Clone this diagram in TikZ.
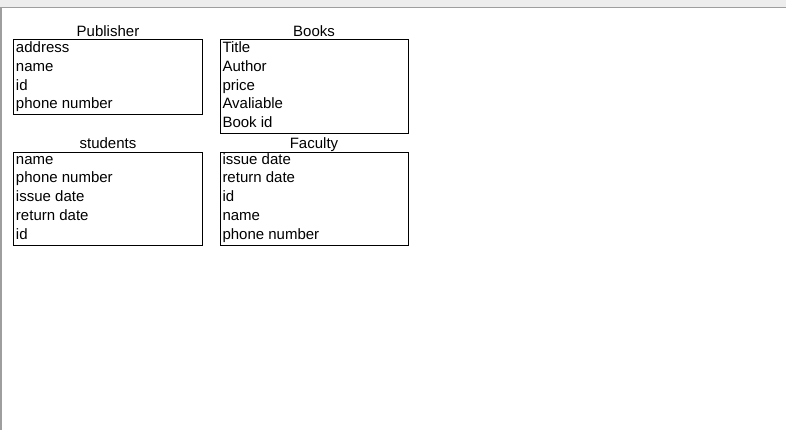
\documentclass[tikz,border=0pt]{standalone}
\usepackage{fontspec}
\setmainfont{Liberation Sans}
\begin{document}
\begin{tikzpicture}[x=1pt,y=-1pt,
  every node/.style={inner sep=0pt,outer sep=0pt,font=\fontsize{15}{18}\selectfont},
  entbox/.style={draw=black,line width=1pt,fill=none},
  enttitle/.style={anchor=base},
  attr/.style={anchor=base west}]
\useasboundingbox (0,0) rectangle (786,430);
\fill[white] (0,0) rectangle (786,430);
% window chrome
\fill[black!7] (0,0) rectangle (786,7);
\draw[black!38,line width=1.2pt] (0,7.4) -- (786,7.4);
\draw[black!38,line width=1.6pt] (0.8,7.4) -- (0.8,430);

% Publisher
\node[enttitle] (pubT) at (108,36.7) {Publisher};
\draw[entbox] (13.5,40) rectangle (202,115);
\coordinate (pubB) at (13.5,40);
\node[attr] (pub1) at (16,52.7) {address};
\node[attr] (pub2) at (16,71.4) {name};
\node[attr] (pub3) at (16,90.1) {id};
\node[attr] (pub4) at (16,108.8) {phone number};

% Books
\node[enttitle] (bookT) at (314,36.7) {Books};
\draw[entbox] (220.5,40) rectangle (408,133.5);
\node[attr] (book1) at (222.5,52.7) {Title};
\node[attr] (book2) at (222.5,71.4) {Author};
\node[attr] (book3) at (222.5,90.1) {price};
\node[attr] (book4) at (222.5,108.8) {Avaliable};
\node[attr] (book5) at (222.5,127.5) {Book id};

% students
\node[enttitle] (stuT) at (108,148.7) {students};
\draw[entbox] (13.5,152.3) rectangle (202,245.8);
\node[attr] (stu1) at (16,164.3) {name};
\node[attr] (stu2) at (16,183) {phone number};
\node[attr] (stu3) at (16,201.7) {issue date};
\node[attr] (stu4) at (16,220.4) {return date};
\node[attr] (stu5) at (16,239.1) {id};

% Faculty
\node[enttitle] (facT) at (314,148.7) {Faculty};
\draw[entbox] (220.5,152.3) rectangle (408,245.8);
\node[attr] (fac1) at (222.5,164.3) {issue date};
\node[attr] (fac2) at (222.5,183) {return date};
\node[attr] (fac3) at (222.5,201.7) {id};
\node[attr] (fac4) at (222.5,220.4) {name};
\node[attr] (fac5) at (222.5,239.1) {phone number};
\end{tikzpicture}
\end{document}
